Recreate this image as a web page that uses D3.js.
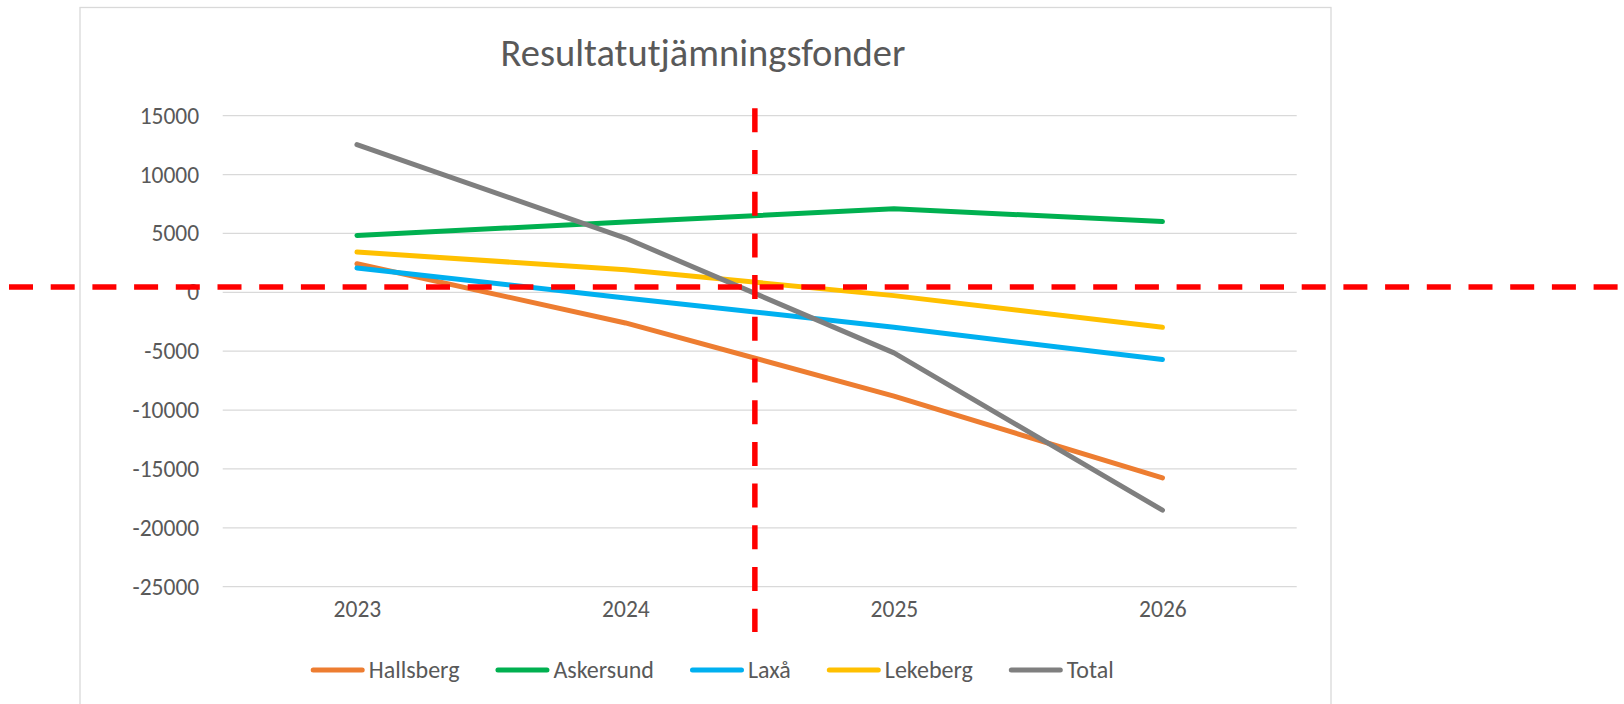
<!DOCTYPE html>
<html lang="sv">

<head>
    <meta charset="UTF-8">
    <script src="https://d3js.org/d3.v7.min.js"></script>
    <title>Resultatutjämningsfonder</title>
    <style>
        body { margin: 0; background: #fff; }
        text { font-family: Carlito, Lato, sans-serif; fill: #595959; }
        .grid line { stroke: #d9d9d9; stroke-width: 1.3px; }
        .series { fill: none; stroke-width: 5px; stroke-linecap: round; stroke-linejoin: round; }
        .ref { stroke: #ff0000; stroke-width: 5.5px; stroke-dasharray: 24 17.7; }
    </style>
</head>

<body>
    <script>
        // Data
        var years = ["2023", "2024", "2025", "2026"];
        var names = ["Hallsberg", "Askersund", "Laxå", "Lekeberg", "Total"];
        var hallsberg = [2430, -2600, -8810, -15760];
        var askersund = [4830, 5970, 7090, 6010];
        var laxa = [2070, -475, -2970, -5710];
        var lekeberg = [3420, 1920, -280, -2975];
        var total = [12540, 4610, -5140, -18500];
        var yTicks = [15000, 10000, 5000, 0, -5000, -10000, -15000, -20000, -25000];
        var colors = ["#ed7d31", "#00b050", "#00b0f0", "#ffc000", "#7f7f7f"];

        var series = [hallsberg, askersund, laxa, lekeberg, total].map(function (v, i) {
            return { name: names[i], color: colors[i], values: v };
        });

        var width = 1624, height = 704;

        var svg = d3.select("body").append("svg")
            .attr("width", width)
            .attr("height", height);

        // chart frame
        svg.append("rect")
            .attr("x", 80).attr("y", 7.5)
            .attr("width", 1251).attr("height", 720)
            .attr("fill", "#fff")
            .attr("stroke", "#d9d9d9")
            .attr("stroke-width", 1.3);

        var x = d3.scalePoint().domain(years).range([222.7, 1296.7]).padding(0.5);
        var y = d3.scaleLinear().domain([-25000, 15000]).range([586.7, 115.7]);

        // title
        svg.append("text")
            .attr("x", 703).attr("y", 66)
            .attr("text-anchor", "middle")
            .style("font-size", "38.5px")
            .text("Resultatutjämningsfonder");

        // gridlines
        svg.append("g")
            .attr("class", "grid")
            .selectAll("line")
            .data(yTicks)
            .enter().append("line")
            .attr("x1", x.range()[0]).attr("x2", x.range()[1])
            .attr("y1", function (d) { return y(d); })
            .attr("y2", function (d) { return y(d); });

        // Y axis (plain hyphen for negatives, like the original)
        var yAxis = svg.append("g")
            .attr("transform", "translate(222.7,0)")
            .call(d3.axisLeft(y).tickValues(yTicks).tickSize(0).tickPadding(23.5)
                .tickFormat(function (d) { return String(d); }));
        yAxis.select(".domain").remove();
        yAxis.selectAll("text").style("font-size", "23.5px").attr("fill", "#595959");

        // X axis
        var xAxis = svg.append("g")
            .attr("transform", "translate(0,586.7)")
            .call(d3.axisBottom(x).tickSize(0).tickPadding(14));
        xAxis.select(".domain").remove();
        xAxis.selectAll("text").style("font-size", "23.5px").attr("fill", "#595959");

        // lines
        var line = d3.line()
            .x(function (d, i) { return x(years[i]); })
            .y(function (d) { return y(d); });

        svg.selectAll(".series")
            .data(series)
            .enter().append("path")
            .attr("class", "series")
            .attr("stroke", function (d) { return d.color; })
            .attr("d", function (d) { return line(d.values); });

        // legend
        var legend = svg.append("g").attr("transform", "translate(0,670)");
        var lx = 310.7;
        series.forEach(function (s) {
            legend.append("line")
                .attr("x1", lx + 2.5).attr("x2", lx + 51.5)
                .attr("y1", 0).attr("y2", 0)
                .attr("stroke", s.color)
                .attr("stroke-width", 5)
                .attr("stroke-linecap", "round");
            var t = legend.append("text")
                .attr("x", lx + 58).attr("y", 0)
                .attr("dy", "0.35em")
                .style("font-size", "24px")
                .text(s.name);
            lx += 58 + t.node().getComputedTextLength() + 36;
        });

        // red dashed reference lines
        var refValue = 460;
        svg.append("line")
            .attr("class", "ref")
            .attr("x1", 0).attr("x2", width)
            .attr("y1", y(refValue)).attr("y2", y(refValue))
            .attr("stroke-dashoffset", 32.7);

        var refX = x("2024") + x.step() * 0.482;
        svg.append("line")
            .attr("class", "ref")
            .attr("x1", refX).attr("x2", refX)
            .attr("y1", 108.3).attr("y2", 632);
    </script>
</body>

</html>
